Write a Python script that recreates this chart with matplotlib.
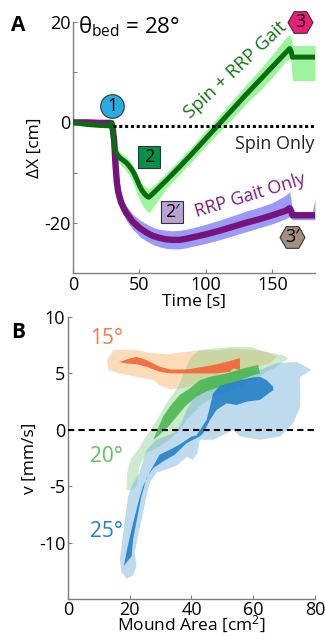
import matplotlib
matplotlib.use("Agg")
import matplotlib.pyplot as plt
import numpy as np

plt.rcParams['font.family'] = ['Open Sans', 'DejaVu Sans']
plt.rcParams['mathtext.fontset'] = 'custom'
plt.rcParams['mathtext.rm'] = 'Open Sans'
plt.rcParams['mathtext.it'] = 'Open Sans'

# ---------------- Panel A data ----------------
t_green = [0, 10, 20, 28, 29, 30, 31, 32, 34, 36, 38, 40, 42, 44, 46, 48, 50, 52, 54, 56, 57,
           60, 70, 80, 90, 100, 110, 120, 130, 140, 150, 160, 163, 164, 165, 170, 180, 182]
green_mean = [0, -0.4, -0.6, -0.7, 0.0, -2.0, -4.5, -5.8, -6.7, -7.2, -7.6, -8.0, -8.6, -9.3, -10.2,
              -11.4, -12.6, -13.6, -14.3, -14.8, -14.9, -14.2, -11.6, -8.9, -6.1, -3.2, -0.3, 2.6,
              5.5, 8.3, 11.1, 13.9, 14.7, 14.2, 13.0, 13.0, 13.0, 13.0]
green_hi = [0.3, -0.1, -0.3, -0.4, 0.3, -1.2, -3.5, -4.8, -5.6, -6.1, -6.5, -6.9, -7.4, -8.1, -8.9,
            -10.0, -11.2, -12.2, -12.8, -13.2, -13.3, -12.7, -10.1, -7.4, -4.6, -1.6, 1.3, 4.4,
            7.4, 10.4, 13.5, 16.9, 17.5, 17.0, 15.3, 15.3, 15.3, 15.3]
green_lo = [-0.3, -0.7, -0.9, -1.0, -0.3, -2.8, -5.5, -6.9, -7.9, -8.5, -9.0, -9.6, -10.4, -11.3,
            -12.6, -14.0, -15.3, -16.4, -17.2, -17.8, -18.0, -17.0, -13.2, -10.4, -7.6, -4.7, -1.9,
            0.8, 3.7, 6.2, 9.0, 12.2, 12.6, 12.0, 8.3, 8.3, 8.3, 8.3]

t_purple = [0, 10, 20, 28, 29, 30, 31, 32, 33, 34, 36, 38, 40, 45, 50, 55, 60, 65, 70, 75, 80, 85,
            90, 100, 110, 120, 130, 140, 150, 160, 163, 164, 165, 170, 180, 182]
purple_mean = [0, 0, -0.1, -0.1, -0.2, -1.5, -3.8, -8.5, -12.0, -13.8, -15.8, -17.0, -18.0, -19.8,
               -21.0, -21.9, -22.6, -23.0, -23.3, -23.4, -23.4, -23.2, -22.9, -22.3, -21.6, -20.8,
               -20.0, -19.3, -18.5, -17.6, -17.1, -17.6, -18.5, -18.5, -18.5, -18.5]
purple_hi = [0.3, 0.3, 0.2, 0.2, 0.1, -1.0, -3.0, -7.3, -10.8, -12.6, -14.5, -15.7, -16.6, -18.3,
             -19.4, -20.2, -20.9, -21.3, -21.5, -21.6, -21.5, -21.3, -21.0, -20.3, -19.5, -18.6,
             -17.7, -16.9, -16.0, -14.5, -13.8, -15.5, -17.8, -17.8, -17.8, -15.3]
purple_lo = [-0.3, -0.3, -0.4, -0.4, -0.5, -2.2, -4.8, -9.8, -13.3, -15.1, -17.2, -18.4, -19.5,
             -21.3, -22.7, -23.6, -24.3, -24.8, -25.1, -25.2, -25.2, -25.0, -24.7, -24.1, -23.4,
             -22.6, -21.8, -21.0, -20.2, -19.2, -18.7, -19.2, -19.4, -19.4, -19.4, -19.4]

t_spin = [30, 182]
spin_only = [-0.8, -0.8]

# annotation badges: label, time, value, shape, colour
badge_labels = ['1', '2', '2\u2032', '3', '3\u2032']
badge_t = [29.5, 57.5, 74.5, 171, 165]
badge_v = [3.2, -6.9, -17.8, 19.9, -22.9]
badge_shapes = ['o', 's', 's', 'H', 'H']
badge_colors = ['#29ABE2', '#00924A', '#B9A3D3', '#EC1E79', '#A38F80']

# ---------------- Panel B data ----------------
o15_light_A = [12.7, 14.6, 21.1, 26.5, 31.9, 38.4, 42.7, 48.1, 53.5, 58.9, 64.3, 67.6, 65.4, 61.1,
               55.7, 49.2, 42.7, 37.3, 33.0, 30.0, 27.6, 22.2, 16.8, 13.0]
o15_light_v = [6.2, 7.06, 7.12, 6.82, 6.7, 6.9, 7.06, 7.06, 7.2, 7.12, 6.9, 6.47, 5.9, 5.59, 5.0,
               4.7, 4.12, 3.7, 3.6, 3.9, 4.41, 4.7, 5.0, 5.3]
o15_core_A = [16.5, 20.0, 22.2, 25.4, 29.7, 33.0, 38.4, 43.8, 48.1, 52.4, 55.7, 55.7, 53.5, 52.4,
              48.1, 43.8, 38.4, 33.0, 29.7, 25.4, 22.2, 19.0]
o15_core_v = [6.0, 6.32, 6.47, 6.18, 5.59, 5.35, 5.35, 5.59, 5.8, 6.1, 6.35, 5.3, 5.44, 5.15, 5.0,
              5.0, 5.0, 5.0, 5.15, 5.59, 5.82, 5.88]

g20_light_A = [18.9, 19.2, 20.3, 22.7, 25.0, 27.6, 31.9, 35.7, 38.4, 40.0, 42.7, 47.0, 53.5, 59.0,
               64.3, 69.7, 71.4, 69.7, 67.0, 64.3, 60.0, 53.5, 47.0, 42.7, 38.4, 36.2, 33.0, 29.7,
               25.4, 23.2, 22.2, 20.5]
g20_light_v = [-5.3, -3.8, -2.6, -1.76, -0.7, 0.29, 2.35, 3.82, 5.6, 6.5, 7.06, 7.2, 7.35, 7.35,
               6.9, 6.6, 6.3, 6.03, 5.5, 5.15, 4.4, 3.5, 2.94, 2.06, 0.88, 0.0, -0.88, -1.47,
               -2.06, -3.2, -5.0, -5.4]
g20_core_A = [27.6, 30.8, 33.0, 36.2, 39.5, 42.7, 46.0, 51.4, 56.8, 61.6, 62.2, 60.0, 55.7, 49.2,
              44.9, 41.6, 37.9, 33.0, 29.5]
g20_core_v = [-0.88, 1.18, 2.06, 3.09, 3.68, 4.4, 4.7, 5.0, 5.44, 5.75, 5.0, 4.85, 4.41, 3.82,
              3.4, 2.94, 2.06, 0.44, -0.5]

b25_light_A = [18.9, 17.3, 16.8, 17.5, 18.4, 19.5, 21.0, 23.2, 25.4, 28.6, 34.0, 36.2, 38.4, 41.6,
               45.9, 53.5, 62.2, 67.6, 74.1, 78.9, 75.2, 75.2, 73.0, 68.7, 62.2, 55.7, 53.5, 51.4,
               47.0, 44.9, 42.7, 42.0, 40.5, 38.5, 35.1, 31.9, 28.7, 26.5, 25.4, 24.3, 22.7, 21.6,
               22.2, 21.1]
b25_light_v = [-13.2, -12.6, -11.5, -10.0, -8.0, -5.9, -4.8, -3.8, -1.8, -0.9, -0.3, 0.3, 1.76,
               3.2, 4.56, 5.15, 5.3, 5.9, 6.03, 5.3, 4.7, 2.06, 0.59, -0.59, -0.88, -0.59, 0.0,
               -0.3, -0.88, -0.88, -0.88, -2.0, -2.65, -2.4, -3.2, -3.5, -3.8, -4.7, -5.9, -7.4,
               -9.4, -10.9, -12.1, -12.9]
b25_core_A = [18.1, 18.9, 20.6, 22.7, 24.3, 27.0, 29.7, 33.0, 36.2, 40.0, 41.6, 44.9, 46.0, 47.0,
              49.2, 55.7, 60.0, 62.2, 64.3, 66.5, 66.5, 62.2, 57.9, 54.6, 51.4, 48.1, 46.0, 43.8,
              42.7, 38.4, 34.6, 30.8, 27.6, 25.4, 23.8, 22.7, 21.1, 20.6]
b25_core_v = [-12.06, -10.9, -8.8, -6.5, -5.0, -3.5, -2.2, -1.77, -1.3, -0.6, -0.5, 0.88, 2.06,
              3.24, 3.9, 4.41, 4.65, 4.7, 4.41, 3.82, 3.53, 2.65, 2.5, 2.2, 2.35, 1.76, 0.88,
              -0.3, -0.59, -1.18, -2.2, -2.8, -3.4, -4.3, -5.9, -7.4, -9.7, -11.2]

angle_labels = ['15\u00b0', '20\u00b0', '25\u00b0']

# ---------------- Figure ----------------
fig = plt.figure(figsize=(3.25, 6.39), dpi=100)
SPINE = '#7f7f7f'
FS = 13

def style(ax):
    for s in ['top', 'right']:
        ax.spines[s].set_visible(False)
    for s in ['left', 'bottom']:
        ax.spines[s].set_color(SPINE)
        ax.spines[s].set_linewidth(1.0)
    ax.tick_params(direction='in', length=3, width=0.8, color=SPINE, labelsize=FS, pad=2)

# Panel A
axA = fig.add_axes([0.2246, 0.5728, 0.7446, 0.3928])
style(axA)
axA.fill_between(t_green, green_lo, green_hi, color='#9CF59C', lw=0, zorder=1)
axA.fill_between(t_purple, purple_lo, purple_hi, color='#9B9BF7', lw=0, zorder=1)
axA.plot(t_purple, purple_mean, color='#76137C', lw=4.6, zorder=3, solid_capstyle='butt')
axA.plot(t_green, green_mean, color='#0B6B0F', lw=3.6, zorder=4, solid_capstyle='butt')
axA.plot(t_spin, spin_only, color='black', lw=2.2, dashes=(1.0, 0.9), zorder=5)
axA.set_xlim(0, 182)
axA.set_ylim(-30, 20)
axA.set_xticks([0, 50, 100, 150])
axA.set_yticks([-30, -20, -10, 0, 10, 20])
axA.set_yticklabels(['', '-20', '', '0', '', '20'])
axA.set_xlabel('Time [s]', fontsize=12.5, va='top')
axA.xaxis.set_label_coords(0.5, -0.084)
axA.set_ylabel('\u0394X [cm]', fontsize=12.5, labelpad=1)

for lab, tx, vy, mk, col in zip(badge_labels, badge_t, badge_v, badge_shapes, badge_colors):
    ms = 17 if mk == 'o' else (16 if mk == 's' else 18)
    axA.plot([tx], [vy], marker=mk, ms=ms, mfc=col, mec='#333333', mew=0.8, ls='none',
             clip_on=False, zorder=6)
    axA.text(tx, vy, lab, ha='center', va='center', fontsize=13, color='black', zorder=7,
             family=['Open Sans', 'DejaVu Sans'])

axA.text(3.5, 19.0, '\u03b8$_{\\mathregular{bed}}$ = 28\u00b0', fontsize=16, ha='left', va='center')
axA.text(122.5, 10.5, 'Spin + RRP Gait', color='#127512', fontsize=13.5, rotation=43,
         ha='center', va='center', rotation_mode='anchor')
axA.text(182, -4.3, 'Spin Only', color='#222222', fontsize=13, ha='right', va='center')
axA.text(133.5, -14.6, 'RRP Gait Only', color='#7B1C80', fontsize=13, rotation=17,
         ha='center', va='center', rotation_mode='anchor')

# Panel B
axB = fig.add_axes([0.2092, 0.0626, 0.76, 0.4413])
style(axB)
axB.fill(o15_light_A, o15_light_v, color='#FBB973', alpha=0.5, lw=0, zorder=1)
axB.fill(g20_light_A, g20_light_v, color='#7FCC85', alpha=0.4, lw=0, zorder=2)
axB.fill(b25_light_A, b25_light_v, color='#6FADD9', alpha=0.45, lw=0, zorder=3)
axB.fill(g20_core_A, g20_core_v, color='#45B649', alpha=0.85, lw=0, zorder=4)
axB.fill(b25_core_A, b25_core_v, color='#1C7BC6', alpha=0.85, lw=0, zorder=5)
axB.fill(o15_core_A, o15_core_v, color='#F26B3A', alpha=0.95, lw=0, zorder=6)
axB.axhline(0, color='black', lw=1.5, dashes=(3, 2), zorder=7)
axB.set_xlim(0, 80)
axB.set_ylim(-15, 10)
axB.set_xticks([0, 20, 40, 60, 80])
axB.set_yticks([-15, -10, -5, 0, 5, 10])
axB.set_yticklabels(['', '-10', '-5', '0', '5', '10'])
axB.tick_params(axis='x', pad=1.5)
axB.set_xlabel('Mound Area [cm$^{\\mathregular{2}}$]', fontsize=12.5, va='top')
axB.xaxis.set_label_coords(0.5, -0.052)
axB.set_ylabel('v [mm/s]', fontsize=12.5, labelpad=1)

axB.text(7.0, 8.1, angle_labels[0], color='#F47A4A', fontsize=15, ha='left', va='center')
axB.text(7.0, -2.4, angle_labels[1], color='#5DC064', fontsize=15, ha='left', va='center')
axB.text(7.0, -9.0, angle_labels[2], color='#1E7FC6', fontsize=15, ha='left', va='center')

fig.text(0.055, 0.96, 'A', fontsize=15, fontweight='bold', ha='center', va='center')
fig.text(0.055, 0.479, 'B', fontsize=15, fontweight='bold', ha='center', va='center')

fig.savefig('out.png', dpi=100)
